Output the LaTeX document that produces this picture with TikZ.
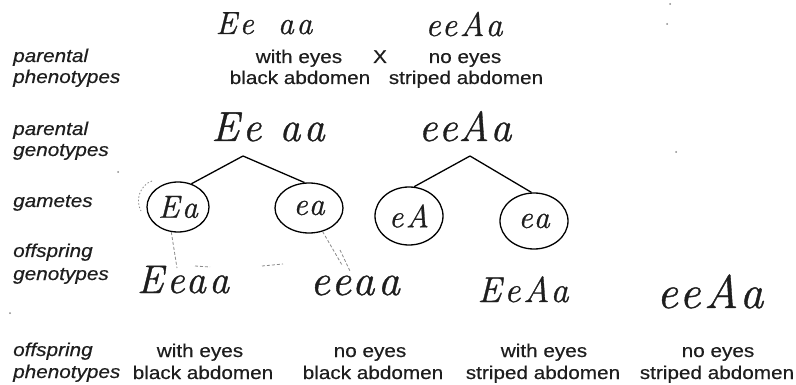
\documentclass[tikz,border=0pt]{standalone}
\usepackage{fontspec}
\setmainfont{Liberation Sans}[FakeStretch=1.12,FakeBold=0.4]
\newfontfamily\hand{Latin Modern Roman}[LetterSpace=8,FakeBold=0.8]
\usetikzlibrary{shapes.geometric}
\definecolor{ink}{HTML}{1E1E1E}
\definecolor{pencilgray}{HTML}{8A8A8A}
\begin{document}
\begin{tikzpicture}[x=1pt,y=-1pt,
  lab/.style={anchor=base west, inner sep=0pt, font=\fontsize{18.5}{20}\selectfont\itshape, text=ink},
  txt/.style={anchor=base, inner sep=0pt, font=\fontsize{18.5}{20}\selectfont, text=ink},
  hw/.style={anchor=base, inner sep=0pt, text=ink, font=\hand\itshape\fontsize{#1}{#1}\selectfont},
  gam/.style={draw=black, line width=1.3pt, ellipse, inner sep=0pt, text=ink, font=\hand\itshape\fontsize{32}{32}\selectfont},
  branch/.style={line width=1.3pt, black},
  pencil/.style={draw=pencilgray, line width=0.8pt, dash pattern=on 3pt off 2pt},
  speck/.style={fill=pencilgray, draw=none}]
\useasboundingbox[fill=white] (0,0) rectangle (796,385);

% left labels
\node[lab] (l1a) at (13,62) {parental};
\node[lab] (l1b) at (13,83) {phenotypes};
\node[lab] (l2a) at (13,135) {parental};
\node[lab] (l2b) at (13,156) {genotypes};
\node[lab] (l3) at (13,207) {gametes};
\node[lab] (l4a) at (13,257) {offspring};
\node[lab] (l4b) at (13,280) {genotypes};
\node[lab] (l5a) at (13,356) {offspring};
\node[lab] (l5b) at (13,378) {phenotypes};

% parental phenotypes
\node[hw=32] (t1) at (264,34) {Ee\hspace{24pt}aa};
\node[hw=34] (t2) at (464,36) {eeAa};
\node[txt] (p1a) at (299,63) {with eyes};
\node[txt] (p1b) at (300,84) {black abdomen};
\node[txt] (px) at (380,63) {X};
\node[txt] (p2a) at (465,63) {no eyes};
\node[txt] (p2b) at (466,84) {striped abdomen};

% parental genotypes
\node[hw=42] (g1p) at (268,141) {Ee aa};
\node[hw=42] (g2p) at (465,141) {ee\kern1pt Aa};
\coordinate (a1) at (243,156);
\coordinate (a2) at (470,156);

% gametes
\node[gam, minimum width=62, minimum height=50] (g1) at (178,207) {Ea};
\node[gam, minimum width=68, minimum height=50] (g2) at (309,208) {ea};
\node[gam, minimum width=68, minimum height=58] (g3) at (409,216) {eA};
\node[gam, minimum width=68, minimum height=56] (g4) at (534,221) {ea};
\draw[branch] (a1) -- (g1.60);
\draw[branch] (a1) -- (g2.100);
\draw[branch] (a2) -- (g3.80);
\draw[branch] (a2) -- (g4.95);

% offspring genotypes
\node[hw=40] (o1) at (183,293) {Eeaa};
\node[hw=44] (o2) at (355,295) {eeaa};
\node[hw=36] (o3) at (523,302) {EeAa};
\node[hw=47] (o4) at (710,308) {eeAa};

% pencil marks
\coordinate (d1) at (177,268);
\draw[pencil] (g1.255) -- (d1);
\coordinate (d2) at (342,265);
\draw[pencil] (g2.300) -- (d2);
\coordinate (d3a) at (340,250);
\coordinate (d3b) at (350,271);
\draw[pencil] (d3a) -- (d3b);
\coordinate (d4a) at (195,266);
\coordinate (d4b) at (210,267);
\draw[pencil] (d4a) -- (d4b);
\coordinate (d5a) at (262,266);
\coordinate (d5b) at (283,264);
\draw[pencil] (d5a) -- (d5b);
\coordinate (d6a) at (152,181);
\coordinate (d6b) at (141,211);
\draw[pencil, dash pattern=on 1.5pt off 2pt] (d6a) .. controls (140,185) and (135,200) .. (d6b);
\fill[speck] (670,4) circle (1pt);
\fill[speck] (667,24) circle (1pt);
\fill[speck] (118,172) circle (1pt);
\fill[speck] (676,152) circle (1pt);
\fill[speck] (10,313) circle (1pt);

% offspring phenotypes
\node[txt] (f1a) at (200,357) {with eyes};
\node[txt] (f1b) at (203,379) {black abdomen};
\node[txt] (f2a) at (370,357) {no eyes};
\node[txt] (f2b) at (373,379) {black abdomen};
\node[txt] (f3a) at (544,357) {with eyes};
\node[txt] (f3b) at (543,379) {striped abdomen};
\node[txt] (f4a) at (718,357) {no eyes};
\node[txt] (f4b) at (717,379) {striped abdomen};
\end{tikzpicture}
\end{document}
